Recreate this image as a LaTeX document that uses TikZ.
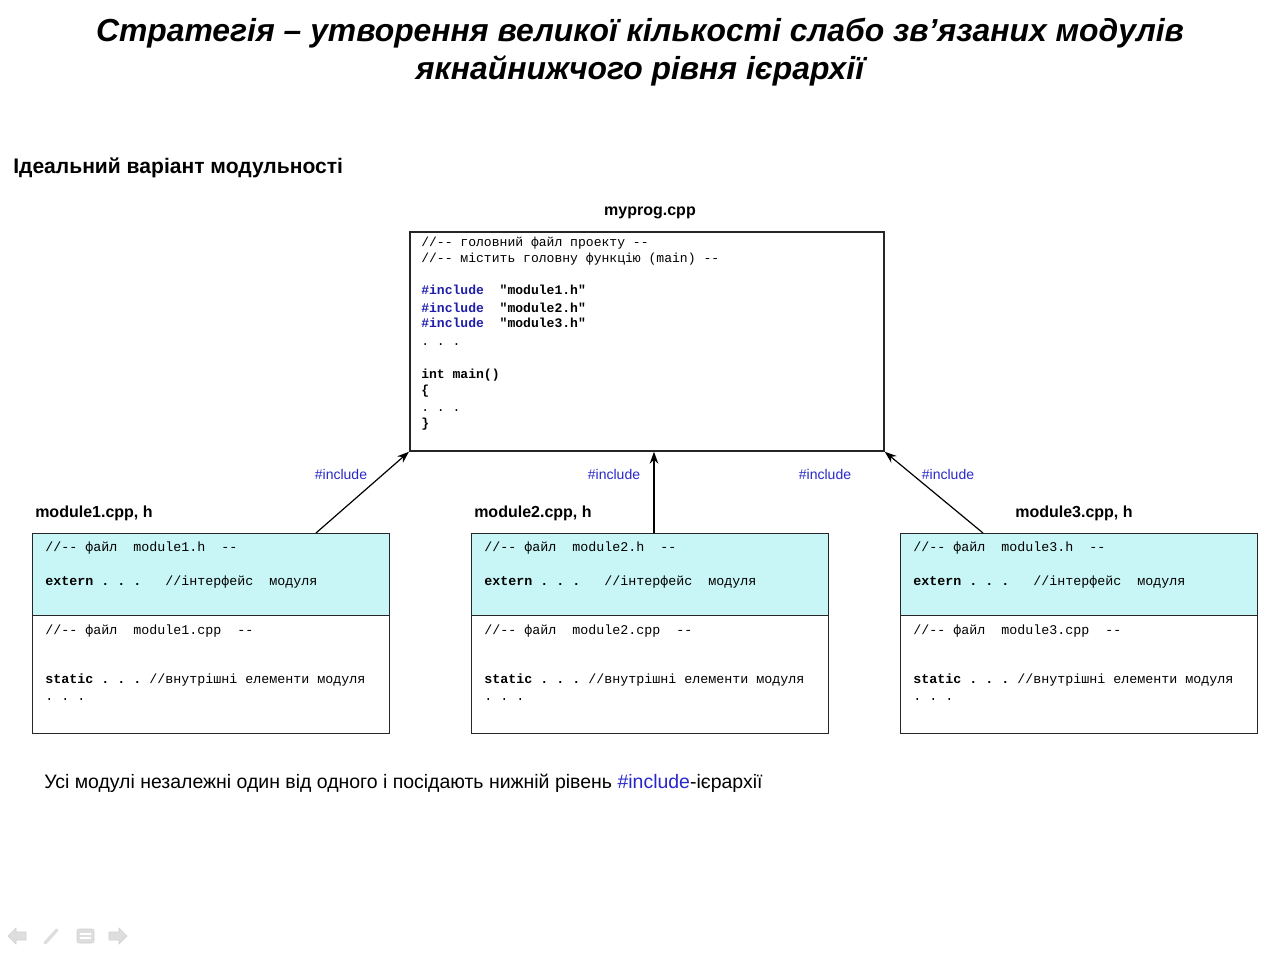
\documentclass[tikz,border=0pt]{standalone}
\usepackage{fontspec}
\setmainfont{Liberation Sans}
\setmonofont{Liberation Mono}
\usetikzlibrary{arrows.meta}
\definecolor{incblue}{RGB}{40,40,200}
\definecolor{codeblue}{RGB}{30,30,170}
\definecolor{hcyan}{RGB}{200,245,245}
\definecolor{navgray}{RGB}{222,222,222}
\begin{document}
\begin{tikzpicture}[x=0.75pt,y=-0.75pt,
  titletext/.style={font=\fontsize{23.9}{28}\selectfont\bfseries\itshape, anchor=base, inner sep=0},
  heading/.style={font=\fontsize{15.8}{18}\selectfont\bfseries, anchor=base west, inner sep=0},
  flabel/.style={font=\fontsize{12}{14}\selectfont\bfseries, inner sep=0},
  inclabel/.style={font=\fontsize{10.5}{12}\selectfont, text=incblue, anchor=center, inner sep=0},
  codeline/.style={font=\ttfamily\fontsize{9.8}{12}\selectfont, anchor=base west, inner sep=0},
  mcodeline/.style={font=\ttfamily\fontsize{10}{12}\selectfont, anchor=base west, inner sep=0},
  mainbox/.style={draw=black!85, line width=1.3pt, fill=white, inner sep=0, anchor=north west,
                  minimum width=355.5pt, minimum height=164.25pt},
  hbox/.style={draw=black!85, line width=1.1pt, fill=hcyan, inner sep=0, anchor=north west,
               minimum width=267.75pt, minimum height=61.5pt},
  cbox/.style={draw=black!85, line width=1.1pt, fill=white, inner sep=0, anchor=north west,
               minimum width=267.75pt, minimum height=88.5pt},
  arr/.style={-{Stealth[length=9pt,width=6.5pt,inset=3pt]}, line width=0.9pt},
  nav/.style={fill=navgray, draw=navgray!80!black!60}
]
\useasboundingbox (0,0) rectangle (1280,955);
\fill[white] (0,0) rectangle (1280,955);

% title
\node[titletext] (t1) at (640,42) {Стратегія – утворення великої кількості слабо зв’язаних модулів};
\node[titletext] (t2) at (640,80) {якнайнижчого рівня ієрархії};

\node[heading] (head) at (13,174) {Ідеальний варіант модульності};

% main file
\node[flabel, anchor=base] (mainlabel) at (650,216) {myprog.cpp};
\node[mainbox] (main) at (409,231) {};
\node[codeline] (m1) at (421,247) {//-- головний файл проекту --};
\node[codeline] (m2) at (421,263) {//-- містить головну функцію (main) --};
\node[codeline] (m3) at (421,295) {\textbf{\textcolor{codeblue}{\#include}}\ \ \textbf{"module1.h"}};
\node[codeline] (m4) at (421,312) {\textbf{\textcolor{codeblue}{\#include}}\ \ \textbf{"module2.h"}};
\node[codeline] (m5) at (421,328) {\textbf{\textcolor{codeblue}{\#include}}\ \ \textbf{"module3.h"}};
\node[codeline] (m6) at (421,345) {.\ .\ .};
\node[codeline] (m7) at (421,378) {\textbf{int main()}};
\node[codeline] (m8) at (421,394) {\textbf{\{}};
\node[codeline] (m9) at (421,411) {.\ .\ .};
\node[codeline] (m10) at (421,427) {\textbf{\}}};

% modules
\foreach \i/\x/\lx in {1/32/35, 2/471/474, 3/900/1015} {
  \node[flabel, anchor=base west] (lab\i) at (\lx,517) {module\i.cpp, h};
  \node[hbox] (h\i) at (\x,533) {};
  \node[cbox] (c\i) at (\x,615) {};
  \node[mcodeline] (ha\i) at (\x+13,551) {//--\ файл\ \ module\i.h\ \ --};
  \node[mcodeline] (hb\i) at (\x+13,585) {\textbf{extern .\ .\ .}\ \ \ //інтерфейс\ \ модуля};
  \node[mcodeline] (ca\i) at (\x+13,634) {//--\ файл\ \ module\i.cpp\ \ --};
  \node[mcodeline] (cb\i) at (\x+13,683) {\textbf{static .\ .\ .} //внутрішні елементи модуля};
  \node[mcodeline] (cc\i) at (\x+13,700) {.\ .\ .};
}

% connectors
\coordinate (s1) at (316,533);
\coordinate (s2) at (654,533);
\coordinate (s3) at (983,533);
\draw[arr] (s1) -- (main.south west);
\draw[arr] (s2) -- (s2 |- main.south);
\draw[arr] (s3) -- (main.south east);

\node[inclabel] (i1) at (341,474) {\#include};
\node[inclabel] (i2) at (614,474) {\#include};
\node[inclabel] (i3) at (825,474) {\#include};
\node[inclabel] (i4) at (948,474) {\#include};

% bottom note
\node[font=\fontsize{14.6}{17}\selectfont, anchor=base west, inner sep=0] (note) at (44,788)
  {Усі модулі незалежні один від одного і посідають нижній рівень \textcolor{incblue}{\#include}-ієрархії};

% slide navigation icons
\filldraw[nav] (8,936) -- (16,928) -- (16,932) -- (26,932) -- (26,940) -- (16,940) -- (16,944) -- cycle;
\draw[navgray, line width=2.5pt, line cap=round] (45,943) -- (57,930);
\filldraw[nav, rounded corners=1.5pt] (77,929) rectangle (94,943);
\draw[white, line width=0.8pt] (80,934) -- (91,934) (80,938) -- (91,938);
\filldraw[nav] (127,936) -- (119,928) -- (119,932) -- (109,932) -- (109,940) -- (119,940) -- (119,944) -- cycle;
\end{tikzpicture}
\end{document}
